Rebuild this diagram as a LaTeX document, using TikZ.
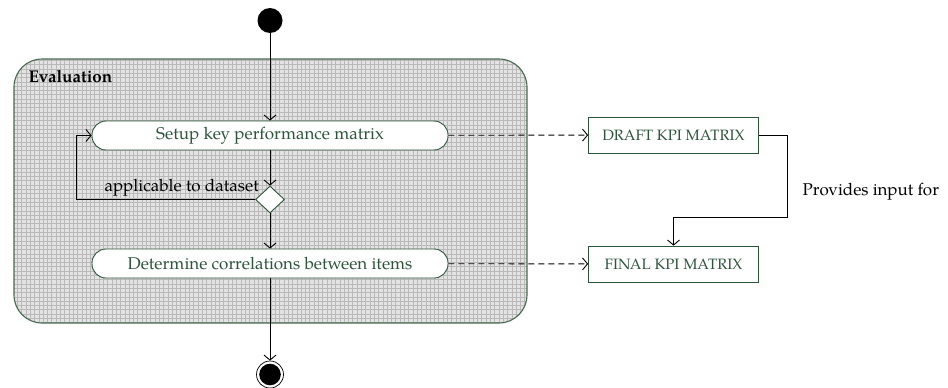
\documentclass[tikz,border=0pt]{standalone}
\usepackage{fontspec}
\setmainfont{TeX Gyre Pagella}
\usepackage{tikz}
\usetikzlibrary{arrows.meta,positioning,shapes.geometric,calc}
\definecolor{umlgreen}{RGB}{44,84,58}
\definecolor{umlframe}{RGB}{70,105,80}

\begin{document}
\begin{tikzpicture}[x=1pt, y=-1pt,
  action/.style={draw=umlgreen, fill=white, rounded corners=14pt,
    minimum width=356pt, minimum height=29pt, text=umlgreen,
    font=\fontsize{17}{20}\selectfont, line width=0.9pt},
  artifact/.style={draw=umlgreen, fill=white, minimum width=170pt,
    minimum height=36pt, text=umlgreen, font=\fontsize{15}{18}\selectfont,
    line width=0.8pt},
  decision/.style={draw=umlgreen, fill=white, diamond, minimum width=29pt,
    minimum height=27pt, inner sep=0pt, line width=0.9pt},
  flow/.style={line width=0.9pt, -{Straight Barb[length=5pt,width=12pt]}},
  lbl/.style={font=\fontsize{17}{20}\selectfont}]
\useasboundingbox (0,0) rectangle (948,388);

% activity frame
\begin{scope}
  \clip[rounded corners=28pt] (14,59) rectangle (527,323);
  \fill[gray!22] (14,59) rectangle (527,323);
  \draw[gray!55, line width=0.4pt, step=4.3pt] (14,59) grid (527,323);
\end{scope}
\draw[umlframe, line width=1.1pt, rounded corners=28pt] (14,59) rectangle (527,323);
\node[anchor=west, font=\bfseries\fontsize{17}{20}\selectfont]
  (evallbl) at (25,77) {Evaluation};

% nodes
\node[circle, fill=black, minimum size=25pt, inner sep=0pt]
  (start) at (270,20.5) {};
\node[action] (setup) at (270,135.5) {Setup key performance matrix};
\node[decision] (check) at (270,199.5) {};
\node[action] (determine) at (270,263.5) {Determine correlations between items};
\node[circle, draw, line width=0.7pt, minimum size=27pt, inner sep=0pt,
  path picture={\fill (path picture bounding box.center) circle (10.8pt);}]
  (end) at (270,374.5) {};

\node[artifact] (draft) at (673.5,135) {DRAFT KPI MATRIX};
\node[artifact] (final) at (673.5,264) {FINAL KPI MATRIX};

\coordinate (loop) at (76,199.5);
\coordinate (bend) at (787,217);

% flows
\draw[flow] (start) -- (setup);
\draw[flow] (setup) -- (check);
\draw[flow] (check) -- (determine);
\draw[flow] (determine) -- (end);
\draw[flow] (check.west) -- (loop) |- (setup.west);
\node[lbl, anchor=base east, inner sep=0pt] (guard) at (259,191) {applicable to dataset};

\draw[flow, dashed, dash pattern=on 6pt off 4pt] (setup) -- (draft);
\draw[flow, dashed, dash pattern=on 6pt off 4pt] (determine) -- (final);
\draw[flow] (draft.east) -| (bend) -| (final.north);
\node[lbl, anchor=west] (inputlbl) at (799,192) {Provides input for};
\end{tikzpicture}
\end{document}
